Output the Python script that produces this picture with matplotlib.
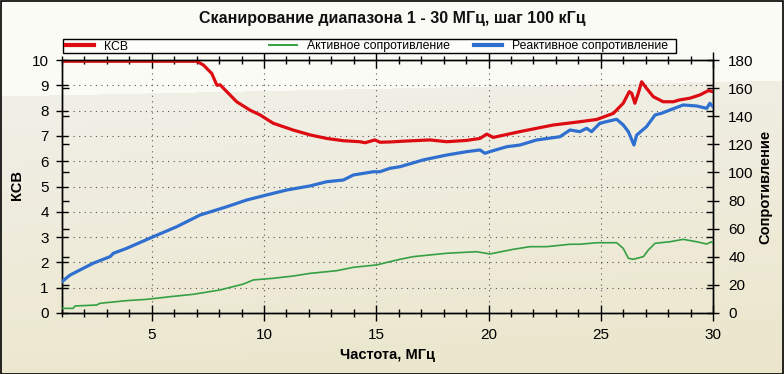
import numpy as np
import matplotlib
matplotlib.use("Agg")
import matplotlib.pyplot as plt
from matplotlib.ticker import MultipleLocator, FixedLocator
from matplotlib.patches import Rectangle

plt.rcParams['font.family'] = ['Liberation Sans', 'DejaVu Sans']

# ---------------- data ----------------
title = "Сканирование диапазона 1 - 30 МГц, шаг 100 кГц"
x_label = "Частота, МГц"
y_left_label = "КСВ"
y_right_label = "Сопротивление"
series_names = ["КСВ", "Активное сопротивление", "Реактивное сопротивление"]

ksv_f = [1.0, 7.0, 7.3, 7.67, 7.9, 8.04, 8.34, 8.78, 9.37, 9.82, 10.41, 11.3, 12.05,
         12.79, 13.53, 14.27, 14.5, 14.94, 15.16, 15.6, 16.4, 17.39, 18.14, 19.0,
         19.62, 19.92, 20.21, 21.4, 22.88, 24.07, 24.82, 25.56, 26.0, 26.27, 26.38,
         26.52, 26.67, 26.82, 27.04, 27.34, 27.78, 28.23, 28.5, 28.97, 29.42, 29.79, 30.0]
ksv_v = [9.95, 9.95, 9.8, 9.47, 9.0, 9.02, 8.75, 8.35, 8.02, 7.83, 7.5, 7.23, 7.04,
         6.9, 6.81, 6.77, 6.73, 6.84, 6.75, 6.76, 6.8, 6.84, 6.77, 6.82,
         6.9, 7.07, 6.94, 7.17, 7.43, 7.56, 7.65, 7.89, 8.29, 8.75, 8.68,
         8.29, 8.68, 9.14, 8.88, 8.55, 8.35, 8.35, 8.42, 8.49, 8.62, 8.79, 8.75]

react_f = [1.0, 1.36, 2.39, 3.14, 3.29, 3.88, 5.07, 6.11, 7.15, 8.34, 9.23, 10.12,
           11.01, 12.05, 12.79, 13.53, 13.98, 14.87, 15.16, 15.6, 16.06, 17.09, 18.14,
           19.03, 19.62, 19.84, 20.06, 20.81, 21.4, 22.14, 23.18, 23.63, 24.07, 24.37,
           24.59, 24.96, 25.56, 25.71, 26.0, 26.23, 26.48, 26.6, 27.04, 27.42, 27.71,
           28.08, 28.67, 29.27, 29.72, 29.86, 30.0]
react_v = [22.3, 27.0, 35.4, 40.1, 42.5, 46.0, 54.3, 61.4, 69.7, 75.6, 80.4, 84.0,
           87.5, 90.4, 93.4, 94.6, 98.2, 100.5, 100.5, 102.9, 104.1, 108.9, 112.4,
           114.8, 116.0, 113.6, 114.8, 118.3, 119.5, 123.1, 125.4, 130.2, 129.0, 131.4,
           129.0, 135.0, 137.3, 137.8, 133.8, 129.0, 119.5, 126.6, 132.6, 140.9, 142.1,
           144.4, 148.0, 147.3, 145.6, 149.2, 146.8]

act_f = [1.0, 1.5, 1.58, 2.55, 2.69, 3.88, 4.77, 5.81, 6.85, 8.04, 9.08, 9.52,
         10.41, 11.3, 12.05, 13.24, 13.98, 15.02, 15.6, 16.06, 16.65, 18.14, 19.47,
         20.06, 21.1, 21.85, 22.59, 23.63, 24.07, 24.82, 25.71, 26.0, 26.23, 26.45,
         26.9, 27.12, 27.42, 28.08, 28.67, 29.27, 29.72, 29.94, 30.0]
act_v = [3.3, 3.3, 5.0, 5.7, 6.9, 8.8, 9.7, 11.6, 13.3, 16.4, 20.6, 23.5,
         24.7, 26.3, 28.2, 30.1, 32.5, 34.2, 36.5, 38.2, 40.1, 42.5, 43.6,
         42.0, 45.3, 47.2, 47.2, 48.9, 48.9, 50.0, 50.0, 46.0, 38.9, 38.2,
         40.1, 44.8, 49.6, 50.7, 52.4, 50.7, 49.1, 50.7, 49.5]

x_major = [5, 10, 15, 20, 25, 30]
left_ticks = list(range(0, 11))
right_ticks = list(range(0, 181, 20))

# ---------------- figure ----------------
W, H = 784, 374
fig = plt.figure(figsize=(W / 100, H / 100), dpi=100)

# background gradient
bg = fig.add_axes([0, 0, 1, 1], zorder=-10)
yy, xx = np.mgrid[0:H, 0:W].astype(float)
boundary = 96 - 16 * (xx / W)
top_c = np.array([252, 251, 245]) / 255
mid_c = np.array([241, 240, 232]) / 255
bot_c = np.array([235, 230, 203]) / 255
t = np.clip((yy - boundary) / (H - boundary) * 0.85 + 0.15 * xx / W, 0, 1)
img = mid_c[None, None, :] * (1 - t[..., None]) + bot_c[None, None, :] * t[..., None]
img[yy < boundary] = top_c
bg.imshow(img, aspect='auto', extent=[0, 1, 0, 1], origin='upper')
bg.axis('off')

L, R, B, T = 62 / W, 713 / W, 1 - 313 / H, 1 - 60 / H
ax = fig.add_axes([L, B, R - L, T - B])
ax.set_facecolor('none')
ax2 = ax.twinx()
ax2.set_facecolor('none')

red = '#dc0c12'
green = '#35a043'
blue = '#2f6fcf'

ax.plot(ksv_f, ksv_v, color=red, lw=2.3, zorder=5, solid_joinstyle='round')
ax2.plot(act_f, act_v, color=green, lw=1.2, zorder=4)
ax2.plot(react_f, react_v, color=blue, lw=2.3, zorder=5, solid_joinstyle='round')

ax.set_xlim(1, 30)
ax.set_ylim(0, 10)
ax2.set_ylim(0, 180)

ax.xaxis.set_major_locator(FixedLocator(x_major))
ax.xaxis.set_minor_locator(MultipleLocator(1))
ax.set_yticks(left_ticks)
ax2.set_yticks(right_ticks)
# mirrored ticks
ax.yaxis.set_minor_locator(FixedLocator([v * 10 / 180 for v in right_ticks]))
ax2.yaxis.set_minor_locator(FixedLocator([v * 18 for v in left_ticks]))

tick_fs = 11
ax.tick_params(axis='x', which='major', direction='inout', length=11, width=1,
               top=True, bottom=True, labelsize=tick_fs, pad=5.5, colors='black')
ax.tick_params(axis='x', which='minor', direction='inout', length=6, width=1,
               top=True, bottom=True)
ax.tick_params(axis='y', which='major', direction='inout', length=8, width=1,
               left=True, right=False, labelsize=tick_fs, pad=5.5)
ax.tick_params(axis='y', which='minor', direction='in', length=5, width=1,
               left=True, right=False)
ax2.tick_params(axis='y', which='major', direction='inout', length=8, width=1,
                right=True, left=False, labelsize=tick_fs, pad=7)
ax2.tick_params(axis='y', which='minor', direction='in', length=5, width=1,
                right=True, left=False)

for a in (ax, ax2):
    for s in a.spines.values():
        s.set_linewidth(1.0)
        s.set_color('black')

ax.grid(True, which='major', axis='both', linestyle=(0, (1, 4)), color='#555555',
        linewidth=0.8)
ax.set_axisbelow(True)

# legend frame + entries
fig.add_artist(Rectangle((63 / W, 1 - 53 / H), (676 - 63) / W, 14 / H,
                         transform=fig.transFigure, facecolor='#fdfdf9',
                         edgecolor='black', lw=1.0, zorder=1))
leg_x = [66, 269, 474]
colors = [red, green, blue]
widths = [3.0, 1.4, 3.0]
for name, c, lw, xp in zip(series_names, colors, widths, leg_x):
    h = plt.Line2D([], [], color=c, lw=lw)
    lg = fig.legend([h], [name], loc='center left',
                    bbox_to_anchor=(xp / W, 1 - 46.5 / H), frameon=False,
                    fontsize=8.8, handlelength=2.3, handletextpad=0.8,
                    borderpad=0, borderaxespad=0)
    lg.set_zorder(2)

# texts
fig.text(0.5, 1 - 19 / H, title, ha='center', va='center', fontsize=11.5,
         fontweight='bold', color='#111111')
fig.text(388 / W, 1 - 355 / H, x_label, ha='center', va='center', fontsize=10.5,
         fontweight='bold')
fig.text(17 / W, 1 - 185 / H, y_left_label, ha='center', va='center', fontsize=10.5,
         fontweight='bold', rotation=90)
fig.text(765 / W, 1 - 187 / H, y_right_label, ha='center', va='center', fontsize=10.5,
         fontweight='bold', rotation=90)

# outer border
fig.add_artist(Rectangle((0.5 / W, 0.5 / H), 1 - 1.5 / W, 1 - 1.5 / H,
                         transform=fig.transFigure, fill=False,
                         edgecolor='black', lw=1.2, zorder=10))

fig.savefig('out.png', dpi=100)
